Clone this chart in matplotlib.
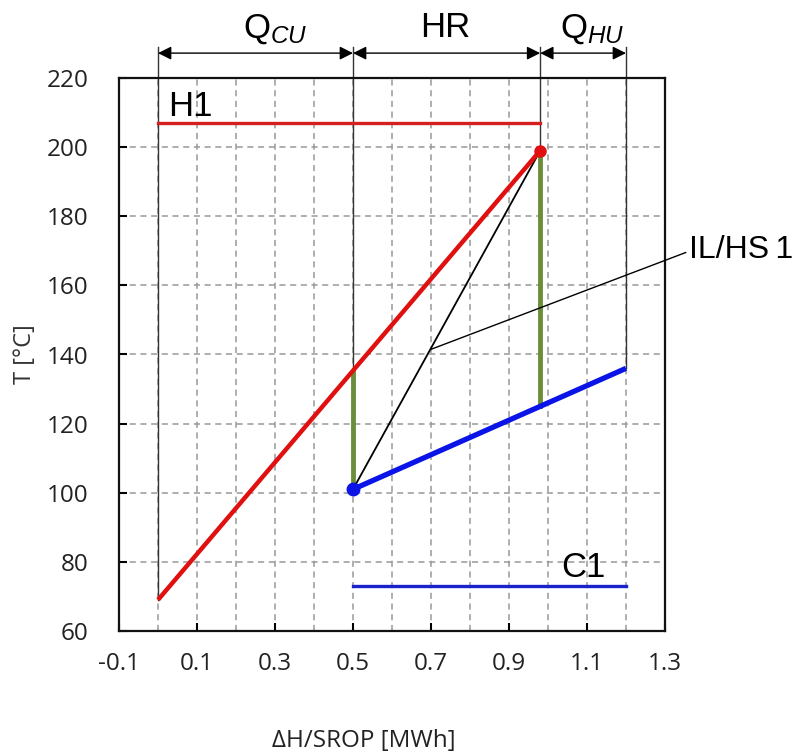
import numpy as np
import matplotlib
matplotlib.use("Agg")
import matplotlib.pyplot as plt

plt.rcParams['mathtext.fontset'] = 'custom'
plt.rcParams['mathtext.rm'] = 'Liberation Sans'
plt.rcParams['mathtext.it'] = 'Liberation Sans:italic'

# dane
hot_x = [0.0, 0.98]          # strumien goracy H1
hot_T = [69, 199]
cold_x = [0.5, 1.2]          # strumien zimny C1
cold_T = [101, 136]
h1_x = [0.0, 0.98]           # linia opisu H1
h1_T = 207
c1_x = [0.5, 1.2]            # linia opisu C1
c1_T = 73
il_x = [0.5, 0.98]           # linia IL/HS 1
il_T = [101, 199]
gap_x = [0.5, 0.98]          # pionowe odcinki (zielone)
gap_low = [101, 125]
gap_high = [135, 199]
bound_x = [0.0, 0.5, 0.98, 1.2]
bound_T = [69, 101, 199, 136]
section_names = [r'$\mathrm{Q}_{CU}$', 'HR', r'$\mathrm{Q}_{HU}$']
section_pos = [0.30, 0.736, 1.113]

xticks = [-0.1, 0.1, 0.3, 0.5, 0.7, 0.9, 1.1, 1.3]
yticks = [60, 80, 100, 120, 140, 160, 180, 200, 220]

fig = plt.figure(figsize=(8.01, 7.53), dpi=100)
ax = fig.add_axes([119/801, 1 - 631/753, (665 - 119)/801, (631 - 78)/753])
ax.set_xlim(-0.1, 1.3)
ax.set_ylim(60, 220)

ax.set_xticks(xticks)
ax.set_xticks(np.round(np.arange(0.0, 1.21, 0.2), 2), minor=True)
ax.set_yticks(yticks)
ax.set_xticklabels([f"{v:g}" for v in xticks], fontsize=17.5, family='Open Sans', color='#222222')
ax.set_yticklabels([str(v) for v in yticks], fontsize=17.5, family='Open Sans', color='#222222')
ax.tick_params(axis='both', which='major', direction='in', length=6, width=1.5)
ax.tick_params(axis='x', which='major', pad=15, top=False)
ax.tick_params(axis='y', which='major', pad=22, right=False)
ax.tick_params(axis='x', which='minor', length=0)
ax.grid(True, which='both', linestyle=(0, (4, 3)), color='#999999', linewidth=1.1)
ax.set_axisbelow(True)
for s in ax.spines.values():
    s.set_linewidth(1.6)
    s.set_color('#111111')

# linie graniczne (wychodza ponad wykres)
top_line = 229
for x, t in zip(bound_x, bound_T):
    ax.plot([x, x], [t, top_line], color='#333333', lw=1.0, clip_on=False, zorder=2)

# strzalki nad wykresem
arrow_y = 227.2
for a, b in zip(bound_x[:-1], bound_x[1:]):
    ax.annotate('', xy=(b, arrow_y), xytext=(a, arrow_y), annotation_clip=False,
                arrowprops=dict(arrowstyle='<|-|>', color='black', lw=1.0,
                                mutation_scale=20, shrinkA=0, shrinkB=0))
for name, xp in zip(section_names, section_pos):
    ax.text(xp, 231.8, name, fontsize=25, family='Liberation Sans', ha='center',
            va='baseline', clip_on=False)

# zielone odcinki
for x, lo, hi in zip(gap_x, gap_low, gap_high):
    ax.plot([x, x], [lo, hi], color='#6b8e3a', lw=3.5, zorder=3)

ax.plot(il_x, il_T, color='black', lw=1.3, zorder=4)
ax.plot(hot_x, hot_T, color='#e01010', lw=3.2, solid_capstyle='butt', zorder=5)
ax.plot(cold_x, cold_T, color='#0a14e6', lw=3.8, solid_capstyle='butt', zorder=5)
ax.plot(hot_x[1], hot_T[1], 'o', color='#e01010', ms=8, zorder=6)
ax.plot(cold_x[0], cold_T[0], 'o', color='#0a14e6', ms=9, zorder=6)

ax.plot(h1_x, [h1_T, h1_T], color='#d62020', lw=2.4, zorder=5)
ax.plot(c1_x, [c1_T, c1_T], color='#1a22cc', lw=2.4, zorder=5)
ax.text(0.026, 209, 'H1', fontsize=25, family='Liberation Sans', va='baseline')
ax.text(1.033, 75.5, 'C1', fontsize=25, family='Liberation Sans', va='baseline')

# opis IL/HS 1
ax.plot([0.70, 1.353], [141.5, 169.5], color='black', lw=1.0, clip_on=False, zorder=6)
ax.text(1.362, 170.3, 'IL/HS\u20091', fontsize=23, family='Liberation Sans',
        ha='left', va='center', clip_on=False)

ax.set_ylabel('T [°C]', fontsize=17, family='Open Sans', color='#333333', labelpad=7)
fig.text(364/801, 1 - 741/753, 'ΔH/SROP [MWh]', fontsize=17.5, family='Open Sans',
         color='#222222', ha='center', va='center')

fig.savefig('out.png', dpi=100)
